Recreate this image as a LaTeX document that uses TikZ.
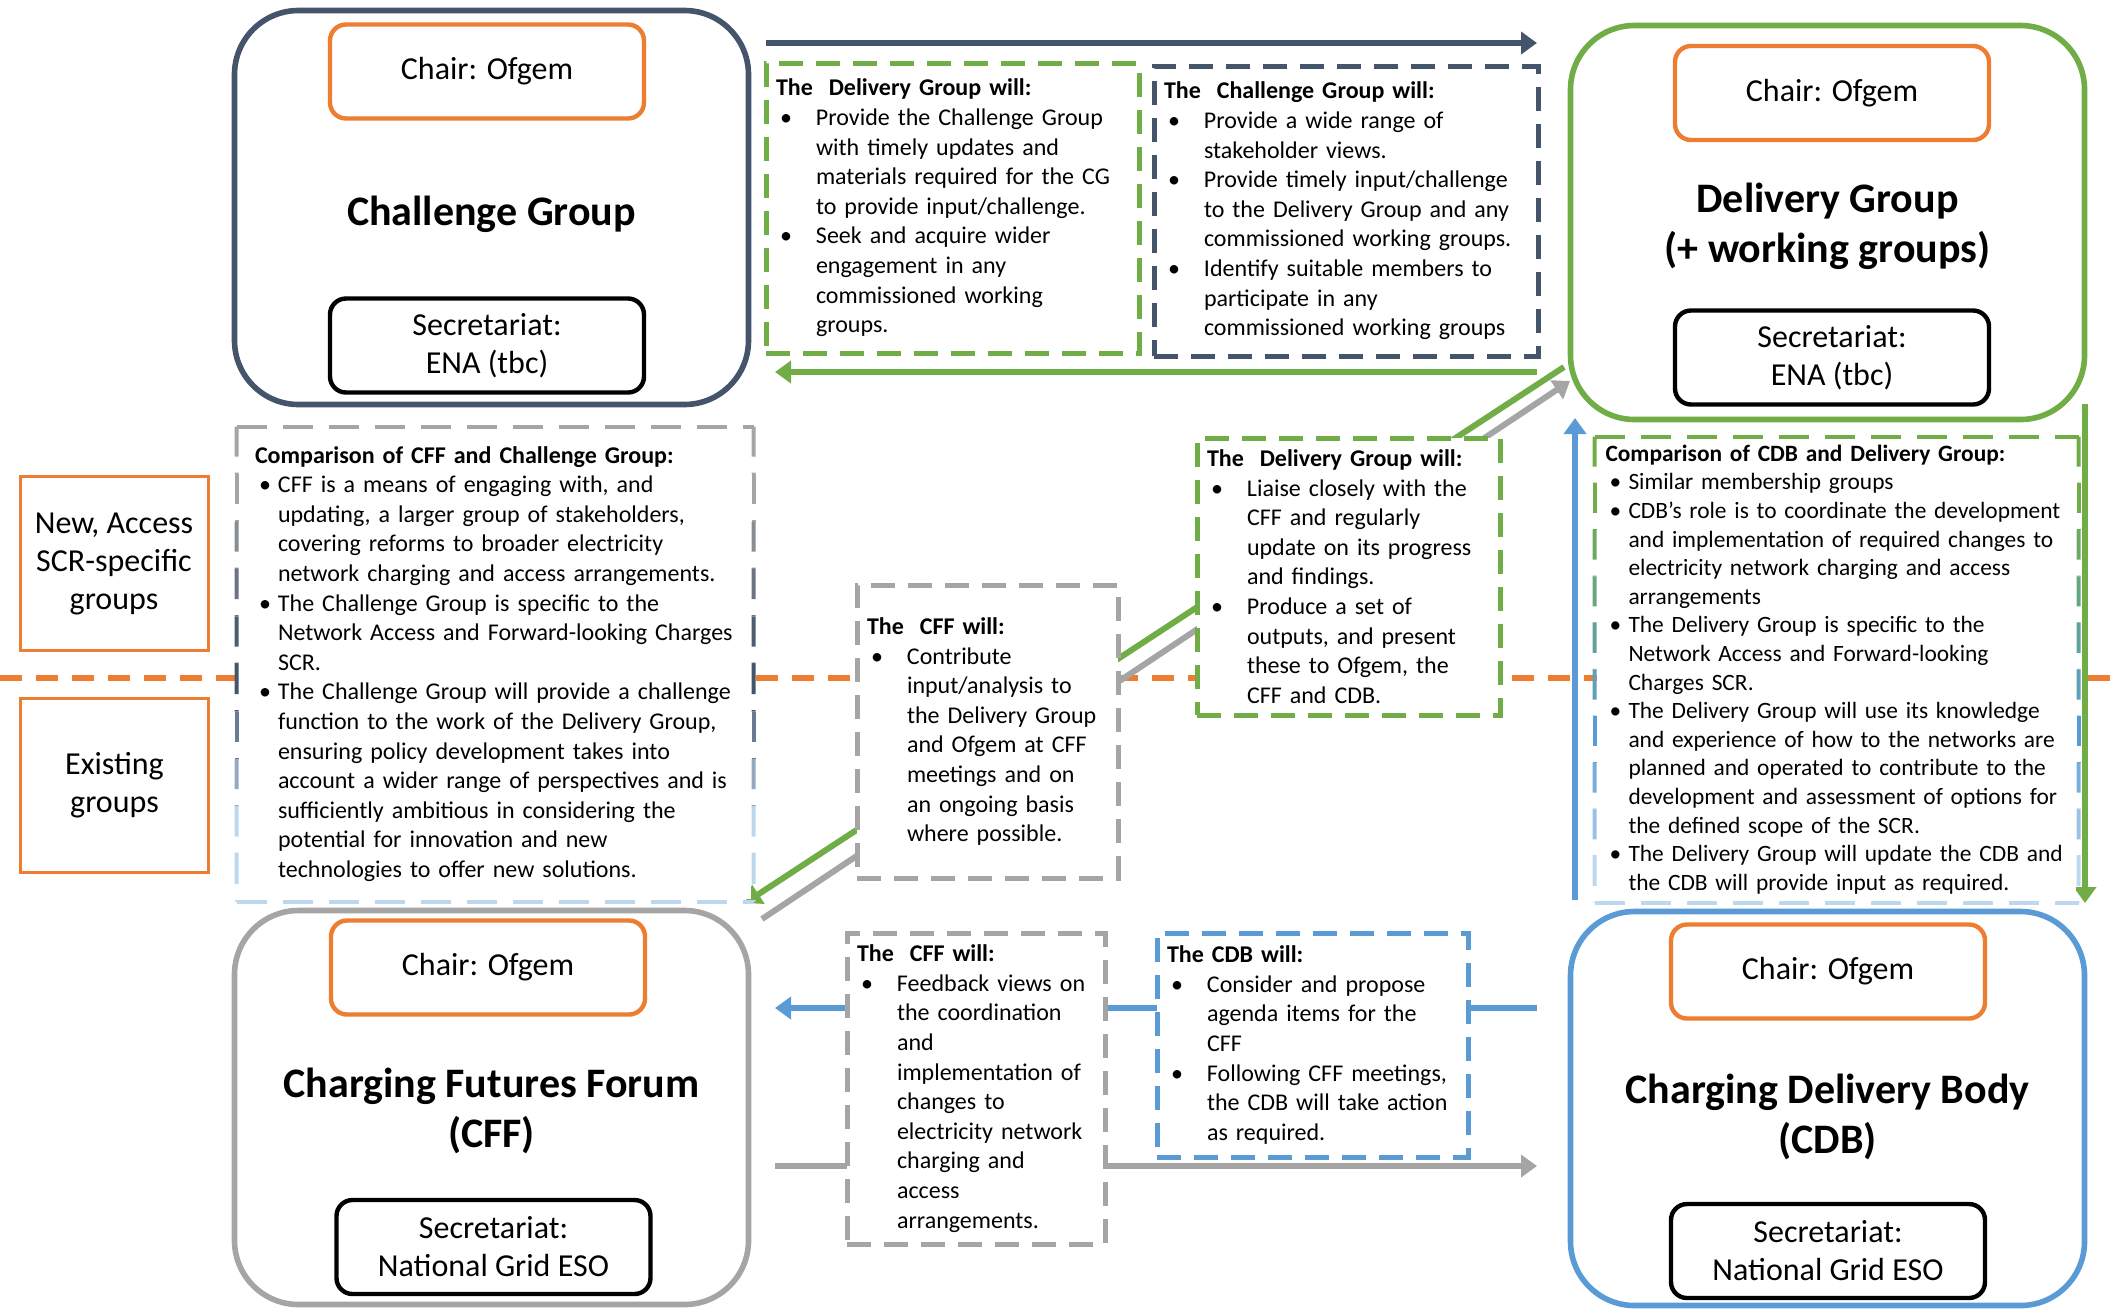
\documentclass[tikz,border=0pt]{standalone}
\usepackage{fontspec}
\setmainfont{Carlito}
\usetikzlibrary{calc,arrows.meta,backgrounds}

\definecolor{slate}{HTML}{44546A}
\definecolor{leaf}{HTML}{70AD47}
\definecolor{ash}{HTML}{A5A5A5}
\definecolor{sky}{HTML}{5B9BD5}
\definecolor{paleblue}{HTML}{BDD7EE}
\definecolor{tangerine}{HTML}{ED7D31}

\setlength{\parindent}{0pt}
\newcommand{\bitem}[2][20pt]{\par\noindent\hangindent=#1\hangafter=1\makebox[#1][l]{\hspace{2pt}\textbullet}#2\par}
\newcommand{\citem}[1]{\bitem[11.5pt]{#1}}

\tikzset{
  group/.style={draw, fill=white, line width=2.8pt, rounded corners=32pt, minimum width=257pt, minimum height=197pt},
  grouptitle/.style={align=center, font=\fontsize{21}{25}\selectfont\bfseries},
  chairbox/.style={draw=tangerine, fill=white, line width=2.2pt, rounded corners=8pt, minimum width=157pt, minimum height=47pt, align=center, font=\fontsize{16}{19}\selectfont},
  secbox/.style={chairbox, draw=black},
  tierbox/.style={draw=tangerine, fill=white, line width=1.5pt, minimum width=94pt, minimum height=87pt, align=center, font=\fontsize{16}{19}\selectfont},
  willbox/.style={fill=white, line width=2.5pt, dash pattern=on 12pt off 6.5pt, inner xsep=5pt, inner ysep=0pt, align=left, font=\fontsize{12}{14.8}\selectfont},
  cmpbox/.style={willbox, draw=none},
  cmpline/.style={line width=2pt, dash pattern=on 15pt off 8pt},
  arr/.style={line width=3pt, -{Triangle[length=8pt,width=11pt]}},
  divider/.style={tangerine, line width=3pt, dash pattern=on 11pt off 7pt}
}

\begin{document}
\begin{tikzpicture}[x=0.5pt, y=-0.5pt]
    \useasboundingbox (0,0) rectangle (2114,1308);

    % the four groups
    \node[group, draw=slate] (cg) at (491.5,207.5) {};
    \node[group, draw=leaf] (dg) at (1827.5,222.5) {};
    \node[group, draw=ash] (cff) at (491.5,1107.5) {};
    \node[group, draw=sky] (cdb) at (1827.5,1108.5) {};

    \node[grouptitle] (cgname) at ($(cg) + (0,6.5)$) {Challenge Group};
    \node[grouptitle] (dgname) at ($(dg) + (0,4)$) {Delivery Group\\(+ working groups)};
    \node[grouptitle] (cffname) at ($(cff) + (0,3.5)$) {Charging Futures Forum\\(CFF)};
    \node[grouptitle] (cdbname) at ($(cdb) + (0,8)$) {Charging Delivery Body\\(CDB)};

    \node[chairbox] (cgchair) at ($(cg) + (-4.5,-136)$) {Chair: Ofgem};
    \node[secbox] (cgsec) at ($(cg) + (-4.5,138)$) {Secretariat:\\ENA (tbc)};
    \node[chairbox] (dgchair) at ($(dg) + (4.5,-129.5)$) {Chair: Ofgem};
    \node[secbox] (dgsec) at ($(dg) + (4.5,135)$) {Secretariat:\\ENA (tbc)};
    \node[chairbox] (cffchair) at ($(cff) + (-3.5,-140)$) {Chair: Ofgem};
    \node[secbox] (cffsec) at ($(cff) + (2,139.5)$) {Secretariat:\\National Grid ESO};
    \node[chairbox] (cdbchair) at ($(cdb) + (0.5,-137)$) {Chair: Ofgem};
    \node[secbox] (cdbsec) at ($(cdb) + (0.5,142.5)$) {Secretariat:\\National Grid ESO};

    % tier labels
    \node[tierbox] (newgrp) at (114,563.5) {New, Access\\SCR-specific\\groups};
    \node[tierbox] (oldgrp) at (114.5,785) {Existing\\groups};

    % what each group will do
    \node[willbox, draw=leaf, text width=176.5pt, minimum height=145pt] (dgwill) at (952.5,208) {%
      \textbf{The\ \ Delivery Group will:}
      \bitem{Provide the Challenge Group\newline with timely updates and\newline materials required for the CG\newline to provide input/challenge.}
      \bitem{Seek and acquire wider\newline engagement in any\newline commissioned working\newline groups.}};
    \node[willbox, draw=slate, text width=182pt, minimum height=145pt] (cgwill) at (1346,211) {%
      \textbf{The\ \ Challenge Group will:}
      \bitem{Provide a wide range of\newline stakeholder views.}
      \bitem{Provide timely input/challenge\newline to the Delivery Group and any\newline commissioned working groups.}
      \bitem{Identify suitable members to\newline participate in any\newline commissioned working groups}};
    \node[cmpbox, text width=246pt, minimum height=235pt] (cmpcff) at (495,664) {%
      \leftskip=3pt\textbf{Comparison of CFF and Challenge Group:}
      \citem{CFF is a means of engaging with, and\newline updating, a larger group of stakeholders,\newline covering reforms to broader electricity\newline network charging and access arrangements.}
      \citem{The Challenge Group is specific to the\newline Network Access and Forward-looking Charges\newline SCR.}
      \citem{The Challenge Group will provide a challenge\newline function to the work of the Delivery Group,\newline ensuring policy development takes into\newline account a wider range of perspectives and is\newline sufficiently ambitious in considering the\newline potential for innovation and new\newline technologies to offer new solutions.}};
    \node[willbox, draw=ash, text width=120.5pt, minimum height=146.5pt] (cffwill) at (987.5,731.5) {%
      \textbf{The\ \ CFF will:}
      \bitem{Contribute\newline input/analysis to\newline the Delivery Group\newline and Ofgem at CFF\newline meetings and on\newline an ongoing basis\newline where possible.}};
    \node[willbox, draw=leaf, text width=141.5pt, minimum height=138.5pt] (dgwill2) at (1348.5,576.5) {%
      \textbf{The\ \ Delivery Group will:}
      \bitem{Liaise closely with the\newline CFF and regularly\newline update on its progress\newline and findings.}
      \bitem{Produce a set of\newline outputs, and present\newline these to Ofgem, the\newline CFF and CDB.}};
    \node[cmpbox, text width=231pt, inner xsep=4.25pt, minimum height=230.5pt, font=\fontsize{11.7}{14.3}\selectfont] (cmpcdb) at (1836.5,669.5) {%
      \textbf{Comparison of CDB and Delivery Group:}
      \citem{Similar membership groups}
      \citem{CDB’s role is to coordinate the development\newline and implementation of required changes to\newline electricity network charging and access\newline arrangements}
      \citem{The Delivery Group is specific to the\newline Network Access and Forward-looking\newline Charges SCR.}
      \citem{The Delivery Group will use its knowledge\newline and experience of how to the networks are\newline planned and operated to contribute to the\newline development and assessment of options for\newline the defined scope of the SCR.}
      \citem{The Delivery Group will update the CDB and\newline the CDB will provide input as required.}};
    \node[willbox, draw=ash, text width=119pt, minimum height=155.5pt] (cffwill2) at (976,1088.5) {%
      \textbf{The\ \ CFF will:}
      \bitem{Feedback views on\newline the coordination\newline and\newline implementation of\newline changes to\newline electricity network\newline charging and\newline access\newline arrangements.}};
    \node[willbox, draw=sky, text width=145.5pt, minimum height=112pt] (cdbwill) at (1312.5,1045) {%
      \textbf{The CDB will:}
      \bitem{Consider and propose\newline agenda items for the\newline CFF}
      \bitem{Following CFF meetings,\newline the CDB will take action\newline as required.}};

    % shaded borders of the two comparison boxes
    \draw[cmpline, ash] (cmpcff.north west) -- (cmpcff.north east);
    \draw[cmpline, paleblue] (cmpcff.south west) -- (cmpcff.south east);
    \foreach \c [count=\i from 0, evaluate=\i as \j using \i+1] in {ash, ash, ash!70!slate, ash!40!slate, slate!90!ash, slate, slate!70!paleblue, slate!35!paleblue, paleblue, paleblue} {
      \draw[cmpline, draw=\c] ($(cmpcff.north west)!\i/10!(cmpcff.south west)$) -- ($(cmpcff.north west)!\j/10!(cmpcff.south west)$);
      \draw[cmpline, draw=\c] ($(cmpcff.north east)!\i/10!(cmpcff.south east)$) -- ($(cmpcff.north east)!\j/10!(cmpcff.south east)$);
    }
    \draw[cmpline, leaf] (cmpcdb.north west) -- (cmpcdb.north east);
    \draw[cmpline, paleblue] (cmpcdb.south west) -- (cmpcdb.south east);
    \foreach \c [count=\i from 0, evaluate=\i as \j using \i+1] in {leaf, leaf, leaf!80!sky, leaf!60!sky, leaf!40!sky, leaf!20!sky, sky, sky!70!paleblue, sky!35!paleblue, paleblue} {
      \draw[cmpline, draw=\c] ($(cmpcdb.north west)!\i/10!(cmpcdb.south west)$) -- ($(cmpcdb.north west)!\j/10!(cmpcdb.south west)$);
      \draw[cmpline, draw=\c] ($(cmpcdb.north east)!\i/10!(cmpcdb.south east)$) -- ($(cmpcdb.north east)!\j/10!(cmpcdb.south east)$);
    }

    % arrow ends
    \coordinate (cgtop) at (766,43);
    \coordinate (dgtop) at (1537,43);
    \coordinate (dgback) at (1537,372);
    \coordinate (cgback) at (775,372);
    \coordinate (dgcorner) at (1564,367);
    \coordinate (cffcorner) at (745,903);
    \coordinate (cffup) at (762,919);
    \coordinate (dgin) at (1570,381);
    \coordinate (cdbleft) at (1537,1008);
    \coordinate (cffright) at (775,1008);
    \coordinate (cffout) at (775,1166);
    \coordinate (cdbin) at (1537,1166);
    \coordinate (cdbup) at (1575,900);
    \coordinate (dgbottom) at (1575,418);
    \coordinate (dgdown) at (2085,404);
    \coordinate (cdbtop) at (2085,903);

    \begin{scope}[on background layer]
      \draw[divider] (0,678) -- (2114,678);
      \draw[arr, slate] (cgtop) -- (dgtop);
      \draw[arr, leaf] (dgback) -- (cgback);
      \draw[arr, leaf] (dgcorner) -- (cffcorner);
      \draw[arr, ash] (cffup) -- (dgin);
      \draw[arr, sky] (cdbleft) -- (cffright);
      \draw[arr, ash] (cffout) -- (cdbin);
      \draw[arr, sky] (cdbup) -- (dgbottom);
      \draw[arr, leaf] (dgdown) -- (cdbtop);
    \end{scope}
\end{tikzpicture}
\end{document}
